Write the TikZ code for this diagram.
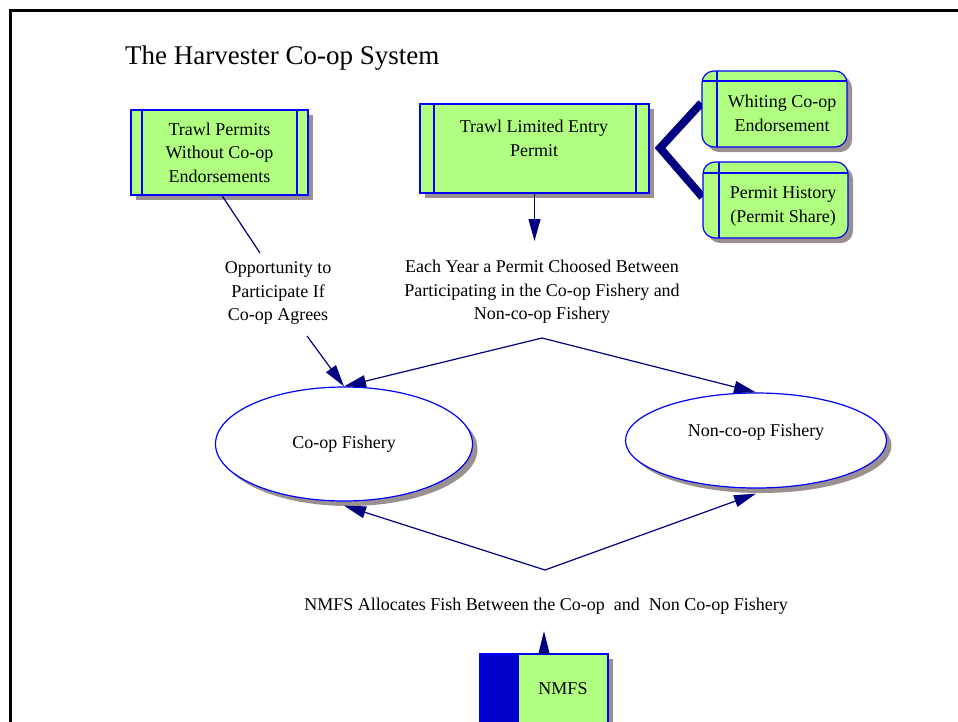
\documentclass[tikz,border=0pt]{standalone}
\usepackage{fontspec}
\setmainfont{Liberation Serif}
\usetikzlibrary{shapes.geometric,arrows.meta,shadows,backgrounds}
\definecolor{boxgreen}{HTML}{B0FF80}
\definecolor{edgeblue}{HTML}{0000FF}
\definecolor{navy}{HTML}{000080}
\definecolor{shadowgrey}{HTML}{9A9090}
\definecolor{nmfsblue}{HTML}{0000CC}
\begin{document}
\begin{tikzpicture}[x=1pt,y=-1pt,
  txt/.style={font=\fontsize{18}{23.5}\selectfont, align=center, inner sep=0pt},
  shad/.style={drop shadow={shadow xshift=5pt, shadow yshift=-5pt, fill=shadowgrey, opacity=1}},
  greenbox/.style={rectangle, fill=boxgreen, draw=edgeblue, line width=1.2pt, shad, inner sep=0pt},
  vlines/.style 2 args={path picture={
     \draw[edgeblue,line width=1.2pt] ([xshift=#1]path picture bounding box.north west) -- ([xshift=#1]path picture bounding box.south west);
     \draw[edgeblue,line width=1.2pt] ([xshift=-#2]path picture bounding box.north east) -- ([xshift=-#2]path picture bounding box.south east);}},
  cornerbox/.style 2 args={greenbox, rounded corners=12pt, path picture={
     \draw[edgeblue,line width=1.2pt] ([yshift=-#1]path picture bounding box.north west) -- ([yshift=-#1]path picture bounding box.north east);
     \draw[edgeblue,line width=1.2pt] ([xshift=#2]path picture bounding box.north west) -- ([xshift=#2]path picture bounding box.south west);}},
  fishery/.style={ellipse, fill=white, draw=edgeblue, line width=1.2pt, shad, inner sep=0pt},
  conn/.style={draw=navy, line width=1.2pt},
  arr/.style={conn, -{Triangle[length=22pt,width=12pt]}},
  thick connector/.style={draw=navy, line width=8pt, line join=miter}
]
\useasboundingbox (0,0) rectangle (958,721);
\draw[line width=3pt, black] (10,740) -- (10,10) -- (970,10);

\node[anchor=base west, font=\fontsize{27}{32}\selectfont, inner sep=0pt] (title) at (125,64) {The Harvester Co-op System};

% boxes
\node[greenbox, vlines={11pt}{11pt}, minimum width=177pt, minimum height=85pt, txt] (b1) at (219.5,152.5) {Trawl Permits\\Without Co-op\\Endorsements};
\node[greenbox, vlines={14pt}{13pt}, minimum width=229pt, minimum height=89pt] (b2) at (534.5,148.5) {};
\node[txt] (b2t) at (534,138.5) {Trawl Limited Entry\\Permit};
\node[cornerbox={10pt}{15pt}, minimum width=145pt, minimum height=76pt] (b3) at (774.5,109) {};
\node[txt] (b3t) at (782,113.5) {Whiting Co-op\\Endorsement};
\node[cornerbox={11pt}{16pt}, minimum width=145pt, minimum height=76pt] (b4) at (775.5,200) {};
\node[txt] (b4t) at (783,206.5) {Permit History\\(Permit Share)};

% labels
\node[txt] (lab1) at (278,293) {Opportunity to\\Participate If\\Co-op Agrees};
\node[txt] (lab2) at (542,292) {Each Year a Permit Choosed Between\\Participating in the Co-op Fishery and\\Non-co-op Fishery};
\node[txt] (lab3) at (546,606) {NMFS Allocates Fish Between the Co-op\ \ and\ \ Non Co-op Fishery};

% fisheries
\node[fishery, minimum width=257pt, minimum height=114pt, txt] (coop) at (344,444) {Co-op Fishery};
\node[fishery, minimum width=261pt, minimum height=95pt] (noncoop) at (756,440.5) {};
\node[txt] (nct) at (756,432) {Non-co-op Fishery};

% NMFS
\node[greenbox, minimum width=128pt, minimum height=86pt, path picture={
   \fill[nmfsblue] (path picture bounding box.north west) rectangle ([xshift=39pt]path picture bounding box.south west);}] (nmfs) at (544,697) {};
\node[txt] (nmfst) at (563,689) {NMFS};

% coordinates
\coordinate (jn) at (660,148);
\coordinate (l1top) at (260,253);
\coordinate (l1bot) at (307,336);
\coordinate (l2top) at (534.5,241);
\coordinate (l2bot) at (542,338);
\coordinate (l3top) at (545,570);
\coordinate (nmfstip) at (544,631);

\begin{scope}[on background layer]
\fill[white] (0,0) rectangle (958,721);
\draw[thick connector] ([yshift=6pt]b3.west) -- (jn) -- ([yshift=3pt]b4.west);
\end{scope}

\draw[conn] ([xshift=2.5pt]b1.south) -- (l1top);
\draw[arr] (l1bot) -- (coop.north);
\draw[arr] (b2.south) -- (l2top);
\draw[arr] (l2bot) -- (coop.north);
\draw[arr] (l2bot) -- (noncoop.north);
\draw[arr] (l3top) -- ([yshift=-4pt]coop.south);
\draw[arr] (l3top) -- ([yshift=-5pt]noncoop.south);
\draw[draw=navy, line width=1.2pt, -{Triangle[length=23pt,width=11pt]}] (nmfs.north) -- (nmfstip);
\end{tikzpicture}
\end{document}
